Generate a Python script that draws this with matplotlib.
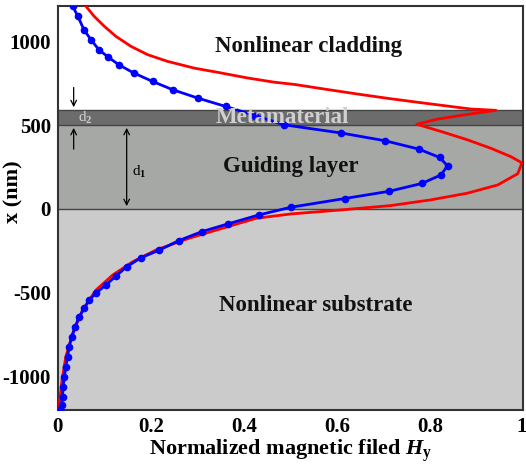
import matplotlib
matplotlib.use("Agg")
import matplotlib.pyplot as plt
from matplotlib.transforms import ScaledTranslation

plt.rcParams['font.family'] = ['Liberation Serif', 'DejaVu Serif']
plt.rcParams['font.weight'] = 'bold'
plt.rcParams['axes.unicode_minus'] = False
plt.rcParams['mathtext.fontset'] = 'custom'
plt.rcParams['mathtext.rm'] = 'Liberation Serif:bold'
plt.rcParams['mathtext.it'] = 'Liberation Serif:italic'

# ---- data ----
blue_h = [0.032, 0.043, 0.056, 0.071, 0.088, 0.108, 0.131, 0.163, 0.204, 0.247, 0.301, 0.361, 0.425,
          0.486, 0.609, 0.703, 0.776, 0.821, 0.838, 0.824, 0.783, 0.712, 0.617, 0.501,
          0.432, 0.365, 0.310, 0.260, 0.217, 0.178, 0.148, 0.125, 0.103, 0.082, 0.067, 0.057,
          0.046, 0.037, 0.030, 0.024, 0.021, 0.017, 0.014, 0.011, 0.010, 0.008, 0.004]
blue_x = [1208, 1149, 1069, 1010, 950, 906, 860, 811, 760, 711, 661, 611, 557,
          502, 453, 407, 357, 307, 257, 203, 152, 105, 62, 10,
          -36, -90, -135, -189, -247, -292, -345, -400, -454, -502, -544, -593,
          -643, -703, -763, -823, -882, -942, -1002, -1061, -1121, -1170, -1200]

red_h = [0.060, 0.078, 0.100, 0.125, 0.157, 0.193, 0.236, 0.293, 0.351, 0.408, 0.465, 0.510,
         0.573, 0.645, 0.716, 0.788, 0.845, 0.888, 0.942, 0.874, 0.817, 0.772,
         0.824, 0.881, 0.931, 0.974, 0.998, 0.989, 0.946, 0.881, 0.802, 0.716, 0.609, 0.501,
         0.426, 0.354, 0.282, 0.211, 0.161, 0.118, 0.082, 0.053, 0.032, 0.017, 0.009, 0.004, 0.002]
red_x = [1210, 1149, 1089, 1029, 970, 920, 880, 840, 811, 781, 756, 742,
         715, 685, 657, 631, 611, 596, 588, 561, 536, 505,
         462, 412, 362, 312, 275, 210, 143, 94, 54, 20, -6, -30,
         -56, -115, -175, -245, -315, -394, -484, -603, -743, -882, -1021, -1141, -1200]

layer_bounds = [-1200, 0, 500, 590, 1210]
layer_colors = ['#cbcbcb', '#a6a8a6', '#6c6c6c', '#ffffff']
region_labels = ['Nonlinear substrate', 'Guiding layer', 'Metamaterial', 'Nonlinear cladding']
region_pos = [(0.555, -573), (0.50, 251), (0.484, 545), (0.54, 968)]
region_colors = ['#111111', '#111111', '#d0d0d0', '#111111']

xticks = [0, 0.2, 0.4, 0.6, 0.8, 1]
xtick_labels = ['0', '0.2', '0.4', '0.6', '0.8', '1']
yticks = [-1000, -500, 0, 500, 1000]

fig = plt.figure(figsize=(5.26, 4.65), dpi=100)
ax = fig.add_axes([0.110, 0.118, 0.884, 0.869])

for lo, hi, c in zip(layer_bounds[:-1], layer_bounds[1:], layer_colors):
    ax.axhspan(lo, hi, color=c, zorder=0, lw=0)
for b in layer_bounds[1:4]:
    ax.axhline(b, color='#444444', lw=1.0, zorder=1)

ax.plot(red_h, red_x, color='#ff0000', lw=2.0, zorder=3)
ax.plot(blue_h, blue_x, color='#0000ff', lw=2.0, marker='o', ms=4.5, zorder=4)

for lab, (px, py), c in zip(region_labels, region_pos, region_colors):
    ax.text(px, py, lab, ha='center', va='center', fontsize=16.5, fontweight='bold', color=c, zorder=6)

# d2 arrows
ax.annotate('', xy=(0.034, 590), xytext=(0.034, 741),
            arrowprops=dict(arrowstyle='->', color='black', lw=0.9), zorder=5)
ax.annotate('', xy=(0.034, 500), xytext=(0.034, 340),
            arrowprops=dict(arrowstyle='->', color='black', lw=0.9), zorder=5)
ax.text(0.043, 545, r'd$_2$', fontsize=11, fontweight='normal', color='#d0d0d0', va='center', zorder=6)
# d1 arrow
ax.annotate('', xy=(0.148, 500), xytext=(0.148, 0),
            arrowprops=dict(arrowstyle='<->', color='black', lw=0.9), zorder=5)
ax.text(0.160, 221, r'd$_1$', fontsize=11, fontweight='normal', color='black', va='center', zorder=6)

ax.set_xlim(0, 1)
ax.set_ylim(-1200, 1210)
ax.set_xticks(xticks)
ax.set_xticklabels(xtick_labels)
ax.set_yticks(yticks)
ax.tick_params(length=0, labelsize=15, pad=5)
for lbl in ax.get_xticklabels() + ax.get_yticklabels():
    lbl.set_fontweight('bold')
last = ax.get_xticklabels()[-1]
last.set_horizontalalignment('right')
last.set_transform(last.get_transform() + ScaledTranslation(4/100, 0, fig.dpi_scale_trans))
for s in ax.spines.values():
    s.set_color('#333333')
    s.set_linewidth(1.5)

ax.set_xlabel(r'Normalized magnetic filed $H_{\rm y}$', fontsize=16, fontweight='bold', labelpad=0)
ax.set_ylabel('x (nm)', fontsize=16, fontweight='bold')
ax.yaxis.set_label_coords(-0.075, 0.54)

fig.savefig('out.png', dpi=100)
